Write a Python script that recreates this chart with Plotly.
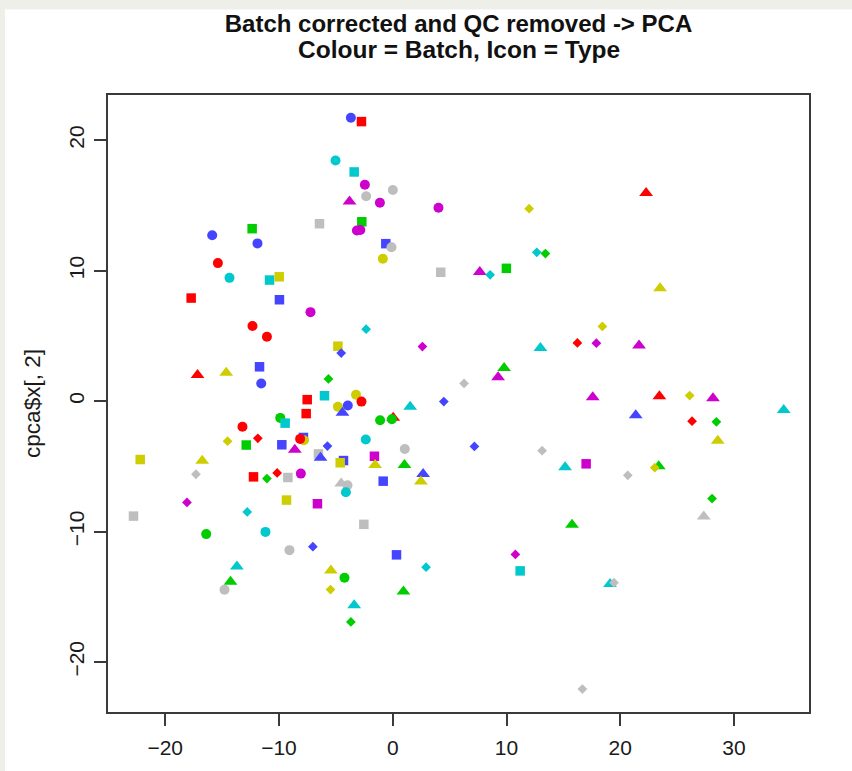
import plotly.graph_objects as go

# PCA scores of each sample after batch correction (QC samples removed)
pc1 = [
    -3.68, -2.75, -5.03, -3.39, -2.45, 0.01, -2.34, -3.80, -1.13, 4.02,
    11.99, 22.27, -6.44, -12.36, -2.72, -3.15, -2.85, -15.87, -11.89, -0.61,
    -0.11, -0.87, 12.66, 13.42, -15.37, 4.22, 7.65, 8.56, 9.99, -14.35,
    -10.83, -9.98, 23.50, -17.72, -9.96, -7.23, -12.33, -11.06, -2.34, -4.82,
    -4.53, 2.61, 12.98, 16.23, 17.90, 18.43, 21.65, -11.71, -17.16, -14.64,
    -11.56, -5.65, 9.79, 9.26, 6.27, -7.52, -6.00, -3.23, -2.75, -7.61,
    -4.82, -3.95, -4.42, 4.49, 1.53, 0.04, -0.08, -1.11, 17.58, 23.44,
    26.10, 28.15, 34.37, 21.36, 26.31, 28.45, 28.57, -9.89, -9.46, -13.21,
    -14.52, -11.86, -12.88, -9.75, -7.85, -7.81, -8.14, -8.61, -5.74, -6.53,
    -6.35, -4.33, -4.62, -2.37, 1.06, 7.18, 13.13, -1.61, -1.55, 1.03,
    2.67, 2.47, -0.84, 15.15, 17.00, 23.38, 23.03, 20.66, 28.07, 27.34,
    -22.20, -16.75, -17.30, -12.24, -11.06, -10.16, -9.22, -8.08, -4.53, -3.98,
    -4.12, -9.34, -6.62, -18.09, -22.79, -12.79, -16.40, -11.19, -9.08, -7.02,
    -13.70, -14.26, -14.79, -5.44, -4.24, -5.47, -3.39, -3.68, -2.54, 0.33,
    2.93, 0.94, 10.78, 11.20, 15.76, 16.67, 19.10, 19.45,
]
pc2 = [
    21.73, 21.43, 18.45, 17.57, 16.59, 16.19, 15.71, 15.30, 15.21, 14.83,
    14.75, 15.95, 13.60, 13.22, 13.75, 13.08, 13.12, 12.72, 12.09, 12.07,
    11.79, 10.91, 11.41, 11.31, 10.58, 9.88, 9.90, 9.68, 10.18, 9.45,
    9.28, 9.53, 8.65, 7.90, 7.77, 6.82, 5.76, 4.93, 5.51, 4.21,
    3.68, 4.18, 4.08, 4.46, 4.44, 5.72, 4.26, 2.63, 2.00, 2.17,
    1.35, 1.70, 2.53, 1.82, 1.35, 0.11, 0.41, 0.49, -0.04, -0.96,
    -0.44, -0.34, -0.89, -0.04, -0.44, -1.27, -1.39, -1.47, 0.29, 0.37,
    0.42, 0.22, -0.69, -1.09, -1.54, -1.59, -3.05, -1.29, -1.69, -1.97,
    -3.07, -2.85, -3.37, -3.35, -2.79, -3.00, -2.90, -3.73, -3.45, -4.05,
    -4.35, -4.56, -4.73, -2.95, -3.68, -3.48, -3.80, -4.23, -4.91, -4.91,
    -5.59, -6.16, -6.14, -5.08, -4.81, -5.00, -5.11, -5.69, -7.47, -8.85,
    -4.48, -4.58, -5.61, -5.81, -5.94, -5.51, -5.86, -5.56, -6.31, -6.46,
    -6.99, -7.59, -7.87, -7.77, -8.82, -8.50, -10.20, -10.03, -11.43, -11.16,
    -12.69, -13.85, -14.47, -12.99, -13.54, -14.45, -15.66, -16.93, -9.45, -11.79,
    -12.74, -14.60, -11.76, -13.02, -9.48, -22.08, -14.02, -13.92,
]
# Batch number (1-7) of each sample
batch = [
    3, 1, 4, 4, 5, 7, 7, 5, 5, 5,
    6, 1, 7, 2, 2, 5, 5, 3, 3, 3,
    7, 6, 4, 2, 1, 7, 5, 4, 2, 4,
    4, 6, 6, 1, 3, 5, 1, 1, 4, 6,
    3, 5, 4, 1, 5, 6, 5, 3, 1, 6,
    3, 2, 2, 5, 7, 1, 4, 6, 1, 1,
    6, 3, 3, 3, 4, 1, 2, 2, 5, 1,
    6, 5, 4, 3, 1, 2, 6, 2, 4, 1,
    6, 1, 2, 3, 3, 6, 1, 5, 3, 7,
    3, 3, 6, 4, 7, 3, 7, 5, 6, 2,
    3, 6, 3, 4, 5, 2, 6, 7, 2, 7,
    6, 6, 7, 1, 2, 1, 7, 5, 7, 7,
    4, 6, 5, 5, 7, 4, 2, 4, 7, 3,
    4, 2, 7, 6, 2, 6, 4, 2, 7, 3,
    4, 2, 5, 4, 2, 7, 4, 7,
]
# Sample type (1-4) of each sample
sample_type = [
    1, 2, 1, 2, 1, 1, 1, 3, 1, 1,
    4, 3, 2, 2, 2, 1, 1, 1, 1, 2,
    1, 1, 4, 4, 1, 2, 3, 4, 2, 1,
    2, 2, 3, 2, 2, 1, 1, 1, 4, 2,
    4, 4, 3, 4, 4, 4, 3, 2, 3, 3,
    1, 4, 3, 3, 4, 2, 2, 1, 1, 2,
    1, 1, 3, 4, 3, 3, 1, 1, 3, 3,
    4, 3, 3, 3, 4, 4, 3, 1, 2, 1,
    4, 4, 2, 2, 2, 1, 1, 3, 4, 2,
    3, 2, 2, 1, 1, 4, 4, 2, 3, 3,
    3, 3, 2, 3, 2, 3, 4, 4, 4, 3,
    2, 3, 4, 2, 4, 4, 2, 1, 3, 1,
    1, 2, 2, 4, 2, 4, 1, 1, 1, 4,
    3, 3, 1, 3, 1, 4, 3, 4, 2, 2,
    4, 3, 4, 2, 3, 4, 3, 4,
]

# Base-R style palette for batches, plotting symbols for types
batch_colours = ["#FF0000", "#00CD00", "#4545FF", "#00C8CD", "#CD00CD", "#CDCD00", "#BEBEBE"]
type_symbols = ["circle", "square", "triangle-up", "diamond"]
type_sizes = [10, 9.5, 12, 7.5]

x_ticks = [-20, -10, 0, 10, 20, 30]
y_ticks = [-20, -10, 0, 10, 20]

title_line1 = "Batch corrected and QC removed -> PCA"
title_line2 = "Colour = Batch, Icon = Type"
y_label = "cpca$x[, 2]"

FONT = "Liberation Sans, Arial, sans-serif"

fig = go.Figure(
    go.Scatter(
        x=pc1,
        y=pc2,
        mode="markers",
        marker=dict(
            color=[batch_colours[b - 1] for b in batch],
            symbol=[type_symbols[t - 1] for t in sample_type],
            size=[type_sizes[t - 1] for t in sample_type],
            opacity=1,
            line=dict(width=0),
        ),
        showlegend=False,
        hoverinfo="x+y",
    )
)

axis_common = dict(
    showgrid=False,
    zeroline=False,
    showline=True,
    mirror=True,
    linecolor="#3a3a3a",
    linewidth=1.5,
    ticks="outside",
    ticklen=12,
    tickwidth=1.5,
    tickcolor="#3a3a3a",
    tickfont=dict(family=FONT, size=21, color="#1a1a1a"),
)

fig.update_xaxes(range=[-25.03, 36.59], tickvals=x_ticks, ticklabelstandoff=4, **axis_common)
fig.update_yaxes(
    range=[-23.84, 23.47],
    tickvals=y_ticks,
    tickangle=-90,
    ticklabelstandoff=2,
    title=dict(
        text=y_label,
        font=dict(family=FONT, size=22.5, color="#1a1a1a"),
        standoff=18,
    ),
    **axis_common,
)

fig.update_layout(
    width=852,
    height=771,
    margin=dict(l=108, r=43, t=95, b=48),
    paper_bgcolor="#eeefe9",
    plot_bgcolor="#ffffff",
    title=dict(
        text=title_line1,
        font=dict(family=FONT, size=24, color="#111111", weight="bold"),
        x=0.5,
        xref="paper",
        xanchor="center",
        y=1 - 24 / 771,
        yref="container",
        yanchor="middle",
    ),
    annotations=[
        dict(
            text=title_line2,
            font=dict(family=FONT, size=24.5, color="#111111", weight="bold"),
            x=0.5,
            xref="paper",
            xanchor="center",
            y=(723 - 49) / 628,
            yref="paper",
            yanchor="middle",
            showarrow=False,
        )
    ],
    shapes=[
        dict(
            type="rect",
            xref="paper",
            yref="paper",
            x0=(5 - 108) / 701,
            x1=(860 - 108) / 701,
            y0=-0.2,
            y1=(723 - 8) / 628,
            fillcolor="#ffffff",
            line=dict(width=0),
            layer="below",
        )
    ],
)

fig.write_html("out.html")
